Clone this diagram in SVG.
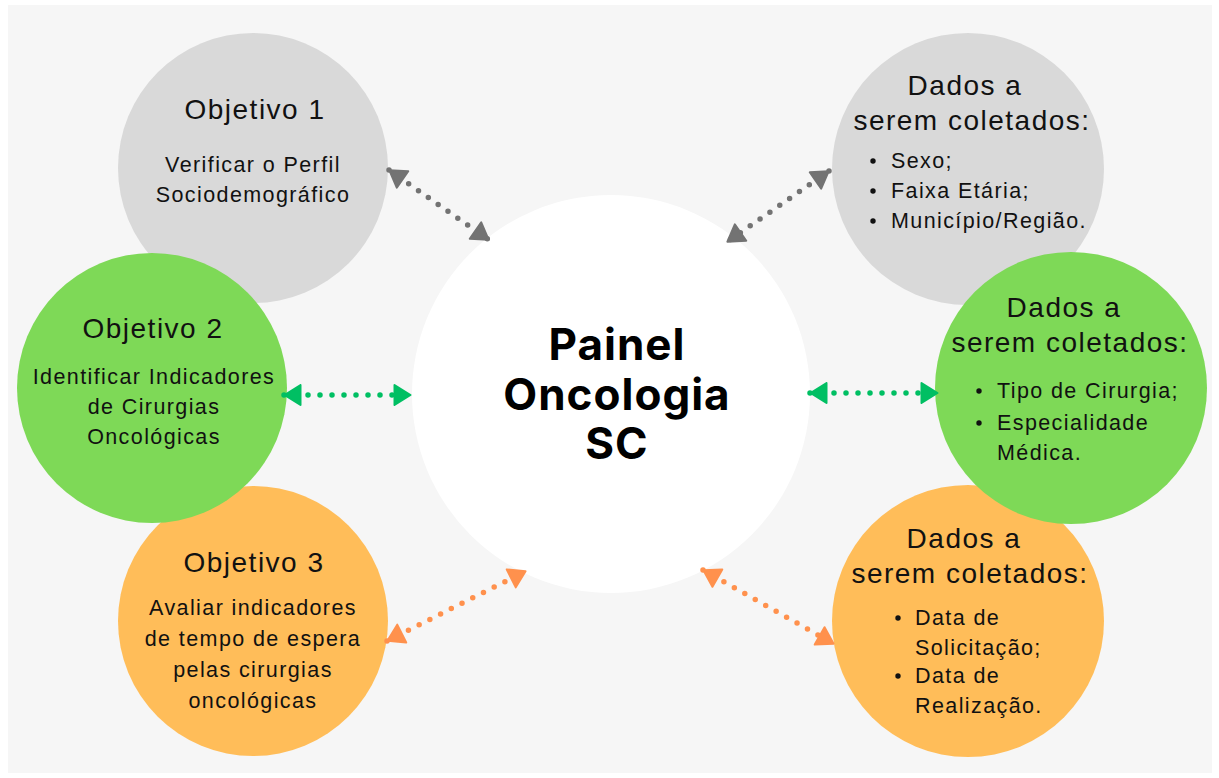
<svg xmlns="http://www.w3.org/2000/svg" width="1219" height="778" viewBox="0 0 1219 778">
<style>
.hd{font-family:"Liberation Sans",Arial,sans-serif;font-size:28px;letter-spacing:1.5px;fill:#111;text-anchor:middle}
.bd{font-family:"Liberation Sans",Arial,sans-serif;font-size:21.5px;letter-spacing:1.4px;fill:#111}
.mid{text-anchor:middle}
.ctr{font-family:Inter,"Open Sans","Liberation Sans",sans-serif;font-size:44px;font-weight:700;letter-spacing:1px;fill:#000;text-anchor:middle}
.dot{fill:#111}
.cg{stroke:#737373}
.cgr{stroke:#00bf63}
.co{stroke:#ff914d}
.con line{stroke-width:5.5;stroke-linecap:round;stroke-dasharray:0 12;fill:none}
</style>
<defs>
<marker id="ag" viewBox="0 0 19 23" refX="18" refY="11.5" markerWidth="19" markerHeight="23" markerUnits="userSpaceOnUse" orient="auto-start-reverse"><path d="M1.5,1.5 L17.5,11.5 L1.5,21.5 Z" fill="#737373" stroke="#737373" stroke-width="2" stroke-linejoin="round"/></marker>
<marker id="agr" viewBox="0 0 19 23" refX="18" refY="11.5" markerWidth="19" markerHeight="23" markerUnits="userSpaceOnUse" orient="auto-start-reverse"><path d="M1.5,1.5 L17.5,11.5 L1.5,21.5 Z" fill="#00bf63" stroke="#00bf63" stroke-width="2" stroke-linejoin="round"/></marker>
<marker id="ao" viewBox="0 0 19 23" refX="18" refY="11.5" markerWidth="19" markerHeight="23" markerUnits="userSpaceOnUse" orient="auto-start-reverse"><path d="M1.5,1.5 L17.5,11.5 L1.5,21.5 Z" fill="#ff914d" stroke="#ff914d" stroke-width="2" stroke-linejoin="round"/></marker>
</defs>
<rect x="0" y="0" width="1219" height="778" fill="#ffffff"/>
<rect x="8" y="5" width="1204" height="768" fill="#f6f6f6"/>

<g id="obj1">
<circle cx="253" cy="168" r="135" fill="#d9d9d9"/>
<text class="hd" x="255" y="119">Objetivo 1</text>
<text class="bd mid" x="253" y="172">Verificar o Perfil</text>
<text class="bd mid" x="253" y="202">Sociodemográfico</text>
</g>

<g id="dados1">
<circle cx="968" cy="169" r="136" fill="#d9d9d9"/>
<text class="hd" x="965" y="95">Dados a</text>
<text class="hd" x="972" y="130">serem coletados:</text>
<circle class="dot" cx="873" cy="161" r="2.7"/>
<text class="bd" x="891" y="168">Sexo;</text>
<circle class="dot" cx="873" cy="191" r="2.7"/>
<text class="bd" x="891" y="198">Faixa Etária;</text>
<circle class="dot" cx="873" cy="221" r="2.7"/>
<text class="bd" x="891" y="228">Município/Região.</text>
</g>

<g id="obj3">
<circle cx="253" cy="621" r="135" fill="#ffbd59"/>
<text class="hd" x="254" y="572">Objetivo 3</text>
<text class="bd mid" x="253" y="615">Avaliar indicadores</text>
<text class="bd mid" x="253" y="646">de tempo de espera</text>
<text class="bd mid" x="253" y="677">pelas cirurgias</text>
<text class="bd mid" x="253" y="708">oncológicas</text>
</g>

<g id="dados3">
<circle cx="968" cy="621" r="136" fill="#ffbd59"/>
<text class="hd" x="964" y="548">Dados a</text>
<text class="hd" x="970" y="583">serem coletados:</text>
<circle class="dot" cx="898" cy="618" r="2.7"/>
<text class="bd" x="915" y="625">Data de</text>
<text class="bd" x="915" y="655">Solicitação;</text>
<circle class="dot" cx="898" cy="676" r="2.7"/>
<text class="bd" x="915" y="683">Data de</text>
<text class="bd" x="915" y="713">Realização.</text>
</g>

<g id="obj2">
<circle cx="152" cy="388" r="135" fill="#7ed957"/>
<text class="hd" x="153" y="338">Objetivo 2</text>
<text class="bd mid" x="154" y="384">Identificar Indicadores</text>
<text class="bd mid" x="154" y="414">de Cirurgias</text>
<text class="bd mid" x="154" y="444">Oncológicas</text>
</g>

<g id="dados2">
<circle cx="1071" cy="388" r="136" fill="#7ed957"/>
<text class="hd" x="1064" y="317">Dados a</text>
<text class="hd" x="1070" y="352">serem coletados:</text>
<circle class="dot" cx="979" cy="391" r="2.7"/>
<text class="bd" x="997" y="398">Tipo de Cirurgia;</text>
<circle class="dot" cx="979" cy="423" r="2.7"/>
<text class="bd" x="997" y="430">Especialidade</text>
<text class="bd" x="997" y="460">Médica.</text>
</g>

<g id="painel">
<circle cx="611" cy="394" r="199" fill="#ffffff"/>
<text class="ctr" x="617" y="360">Painel</text>
<text class="ctr" x="617" y="410">Oncologia</text>
<text class="ctr" x="617" y="459">SC</text>
</g>

<g id="connectors" class="con">
<line class="cg" x1="389" y1="170" x2="489" y2="240" marker-start="url(#ag)" marker-end="url(#ag)"/>
<line class="cg" x1="829" y1="171" x2="727" y2="242" marker-start="url(#ag)" marker-end="url(#ag)"/>
<line class="cgr" x1="284" y1="395" x2="411" y2="395" marker-start="url(#agr)" marker-end="url(#agr)"/>
<line class="cgr" x1="810" y1="393" x2="938" y2="393" marker-start="url(#agr)" marker-end="url(#agr)"/>
<line class="co" x1="387" y1="641" x2="526" y2="571" marker-start="url(#ao)" marker-end="url(#ao)"/>
<line class="co" x1="703" y1="570" x2="834" y2="644" marker-start="url(#ao)" marker-end="url(#ao)"/>
</g>
</svg>
